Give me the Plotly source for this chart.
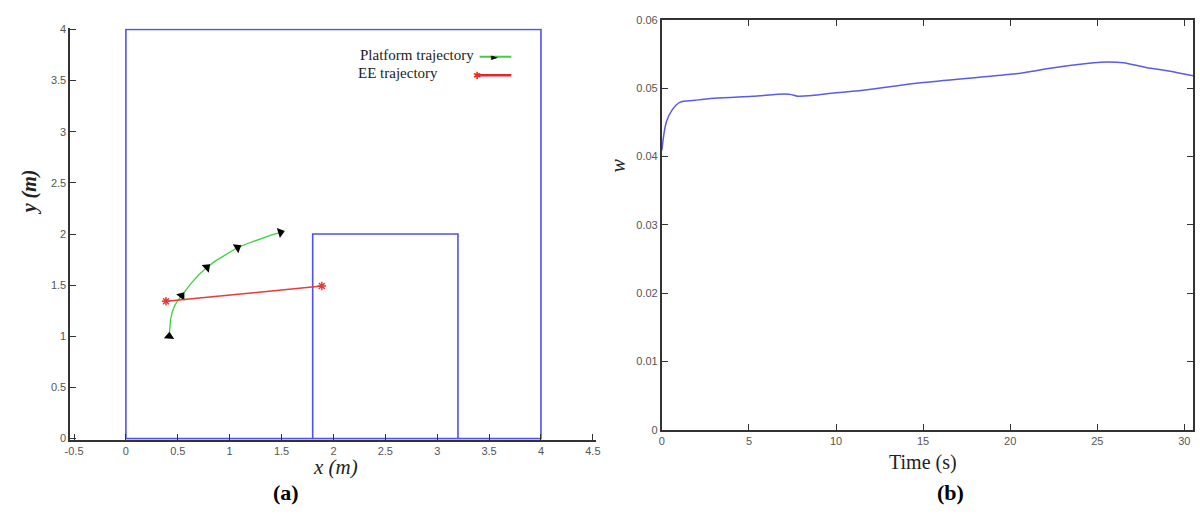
import math
import plotly.graph_objects as go

W, H = 1200, 514

# ---------------- data: panel (a) ----------------
outer_x = [0, 0, 4, 4, 0]
outer_y = [0, 4, 4, 0, 0]
inner_x = [1.8, 1.8, 3.2, 3.2]
inner_y = [0, 2, 2, 0]

platform_x = [0.417, 0.422, 0.43, 0.447, 0.47, 0.50, 0.537, 0.58, 0.63, 0.70, 0.78, 0.86, 0.95, 1.075, 1.18, 1.30, 1.40, 1.49]
platform_y = [1.00, 1.08, 1.16, 1.24, 1.30, 1.35, 1.397, 1.46, 1.52, 1.60, 1.674, 1.735, 1.79, 1.868, 1.91, 1.955, 1.99, 2.017]
arrow_idx = [0, 6, 10, 13, 17]

ee_x = [0.386, 1.888]
ee_y = [1.343, 1.492]

xa_ticks = [-0.5, 0, 0.5, 1, 1.5, 2, 2.5, 3, 3.5, 4, 4.5]
xa_labels = ["-0.5", "0", "0.5", "1", "1.5", "2", "2.5", "3", "3.5", "4", "4.5"]
ya_ticks = [0, 0.5, 1, 1.5, 2, 2.5, 3, 3.5, 4]
ya_labels = ["0", "0.5", "1", "1.5", "2", "2.5", "3", "3.5", "4"]

# ---------------- data: panel (b) ----------------
time_s = [0, 0.26, 0.59, 1.02, 1.9, 3.0, 5.2, 7.3, 7.8, 8.6, 10.0, 11.3, 15.0, 20.0, 20.9, 22.6, 24.8, 25.6, 26.5, 27.8, 29.1, 30.5]
w_val = [0.0409, 0.0451, 0.0468, 0.0479, 0.0482, 0.0485, 0.0488, 0.0491, 0.0488, 0.0489, 0.0493, 0.0496, 0.0508, 0.0520, 0.0523, 0.0530, 0.0537, 0.0538, 0.0537, 0.0530, 0.0525, 0.0518]

xb_ticks = [0, 5, 10, 15, 20, 25, 30]
yb_ticks = [0, 0.01, 0.02, 0.03, 0.04, 0.05, 0.06]
yb_labels = ["0", "0.01", "0.02", "0.03", "0.04", "0.05", "0.06"]

BLUE = "rgb(80,80,240)"
AXC = "#333333"
TICKF = dict(family="Liberation Sans, Arial", size=11, color="#555555")
SERIF = "Liberation Serif, Times New Roman, serif"

fig = go.Figure()

fig.add_trace(go.Scatter(x=outer_x, y=outer_y, mode="lines", line=dict(color=BLUE, width=1.6),
                         xaxis="x", yaxis="y", showlegend=False, hoverinfo="skip"))
fig.add_trace(go.Scatter(x=inner_x, y=inner_y, mode="lines", line=dict(color=BLUE, width=1.6),
                         xaxis="x", yaxis="y", showlegend=False, hoverinfo="skip"))

fig.add_trace(go.Scatter(x=platform_x, y=platform_y, mode="lines",
                         line=dict(color="rgb(60,210,60)", width=1.3),
                         xaxis="x", yaxis="y", name="Platform trajectory", showlegend=False))

# arrow heads oriented along the path direction (angle measured clockwise from up)
arr_x, arr_y, arr_ang = [], [], []
for i in arrow_idx:
    j0, j1 = (i, i + 1) if i == 0 else (i - 1, i)
    dx = platform_x[j1] - platform_x[j0]
    dy = platform_y[j1] - platform_y[j0]
    arr_x.append(platform_x[i])
    arr_y.append(platform_y[i])
    arr_ang.append(90 - math.degrees(math.atan2(dy, dx)))
fig.add_trace(go.Scatter(x=arr_x, y=arr_y, mode="markers",
                         marker=dict(symbol="triangle-up", size=9, color="black", angle=arr_ang),
                         xaxis="x", yaxis="y", showlegend=False, hoverinfo="skip"))

fig.add_trace(go.Scatter(x=ee_x, y=ee_y, mode="lines+markers",
                         line=dict(color="rgb(230,60,60)", width=1.5),
                         marker=dict(symbol="asterisk-open", size=7, line=dict(color="rgb(240,40,40)", width=1.5)),
                         xaxis="x", yaxis="y", name="EE trajectory", showlegend=False))

fig.add_trace(go.Scatter(x=time_s, y=w_val, mode="lines", line=dict(color="rgb(90,90,235)", width=1.5, shape="spline"),
                         xaxis="x2", yaxis="y2", showlegend=False))


def px(x):
    return x / W


def py(y):
    return (H - y) / H


fig.update_layout(
    autosize=True, margin=dict(l=0, r=0, t=0, b=0),
    paper_bgcolor="white", plot_bgcolor="white",
    xaxis=dict(domain=[px(65), px(595)], range=[-0.535, 4.526], tickvals=xa_ticks, ticktext=xa_labels,
               ticks="inside", ticklen=6, tickcolor=AXC, showline=True, linecolor=AXC, linewidth=2,
               showgrid=False, zeroline=False, tickfont=TICKF, anchor="y"),
    yaxis=dict(domain=[py(444), py(23)], range=[-0.01, 4.01], tickvals=ya_ticks, ticktext=ya_labels,
               ticks="inside", ticklen=6, tickcolor=AXC, showline=True, linecolor=AXC, linewidth=2,
               showgrid=False, zeroline=False, tickfont=TICKF, anchor="x"),
    xaxis2=dict(domain=[px(662), px(1198)], range=[0, 30.5], tickvals=xb_ticks,
                ticks="inside", ticklen=6, tickcolor=AXC, showline=True, linecolor=AXC, linewidth=2,
                mirror="ticks", showgrid=False, zeroline=False, tickfont=TICKF, anchor="y2"),
    yaxis2=dict(domain=[py(434), py(14)], range=[0, 0.06], tickvals=yb_ticks, ticktext=yb_labels,
                ticks="inside", ticklen=6, tickcolor=AXC, showline=True, linecolor=AXC, linewidth=2,
                mirror="ticks", showgrid=False, zeroline=False, tickfont=TICKF, anchor="x2"),
)

ann = [
    dict(text="<b><i>y (m)</i></b>", x=px(24), y=py(190), textangle=-90, font=dict(family=SERIF, size=20, color="#222")),
    dict(text="<i>x (m)</i>", x=px(333), y=py(472), font=dict(family=SERIF, size=21, color="#222")),
    dict(text="Time (s)", x=px(925), y=py(467), font=dict(family=SERIF, size=20, color="#222")),
    dict(text="<i>w</i>", x=px(618), y=py(163), textangle=-90, font=dict(family=SERIF, size=20, color="#222")),
    dict(text="<b>(a)</b>", x=px(283), y=py(498), font=dict(family=SERIF, size=22, color="black")),
    dict(text="<b>(b)</b>", x=px(953), y=py(498), font=dict(family=SERIF, size=22, color="black")),
    dict(text="Platform trajectory", x=px(474), y=py(50), xanchor="right", font=dict(family=SERIF, size=15, color="#222")),
    dict(text="EE trajectory", x=px(438), y=py(69), xanchor="right", font=dict(family=SERIF, size=15, color="#222")),
    dict(text="►", x=px(493), y=py(52), font=dict(family="DejaVu Sans", size=9, color="black")),
    dict(text="✱", x=px(475), y=py(71), font=dict(family="DejaVu Sans", size=10, color="rgb(240,40,40)")),
]
for a in ann:
    a.update(xref="paper", yref="paper", showarrow=False)
    a.setdefault("xanchor", "center")
    a["yanchor"] = "middle"
fig.update_layout(annotations=ann)

fig.update_layout(shapes=[
    dict(type="line", xref="paper", yref="paper", x0=px(478), x1=px(510), y0=py(52), y1=py(52),
         line=dict(color="rgb(60,210,60)", width=2), layer="below"),
    dict(type="line", xref="paper", yref="paper", x0=px(475), x1=px(510), y0=py(71), y1=py(71),
         line=dict(color="rgb(230,40,40)", width=2.5), layer="below"),
])

fig.write_html("out.html", config={"displayModeBar": False},
               default_width="100vw", default_height="100vh",
               post_script="document.body.style.margin='0';document.body.style.padding='0';"
                           "document.body.style.overflow='hidden';"
                           "document.documentElement.style.overflow='hidden';"
                           "window.dispatchEvent(new Event('resize'));")
